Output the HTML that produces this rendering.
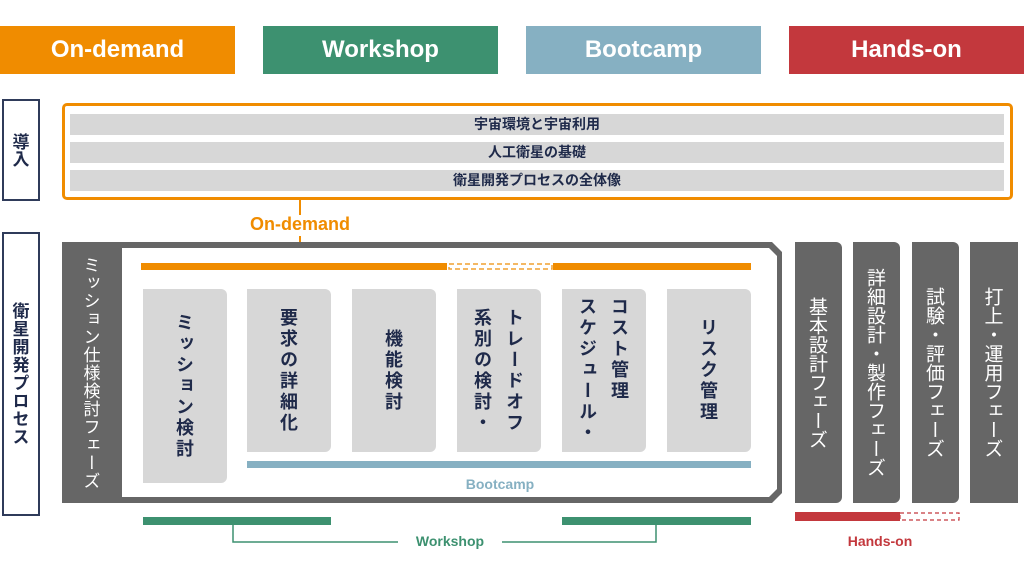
<!DOCTYPE html>
<html><head><meta charset="utf-8"><style>
*{margin:0;padding:0;box-sizing:border-box}
body{width:1024px;height:576px;background:#fff;position:relative;overflow:hidden;font-family:"Liberation Sans","Noto Sans CJK JP",sans-serif;font-weight:bold}
.a{position:absolute}
.btn{top:26px;height:48px;width:235px;color:#fff;font-size:24px;text-align:center;line-height:48px;font-weight:bold}
.row{left:70px;width:934px;height:21px;background:#d7d7d7;color:#1f2a4a;font-size:14px;text-align:center;line-height:21px}
.v{writing-mode:vertical-rl;text-orientation:upright;font-family:"Noto Sans CJK JP",sans-serif;font-weight:bold}
.card{top:289px;height:163px;width:84px;background:#d7d7d7;border-radius:0 6px 6px 0;color:#1f2a4a;font-size:18px;display:flex;align-items:center;justify-content:center;letter-spacing:3px;line-height:32px}
.ph{top:242px;height:261px;background:#666;color:#fff;border-radius:0 6px 6px 0;font-size:19px;display:flex;align-items:center;justify-content:center;letter-spacing:0;font-weight:normal}
.lbl{font-size:15px;text-align:center}
</style></head><body>
<div class="a btn" style="left:0;background:#f08c00">On-demand</div>
<div class="a btn" style="left:263px;background:#3d9170">Workshop</div>
<div class="a btn" style="left:526px;background:#86b0c2">Bootcamp</div>
<div class="a btn" style="left:789px;background:#c3383d">Hands-on</div>

<div class="a v" style="left:2px;top:99px;width:38px;height:102px;border:2px solid #2f3b5a;color:#1f2a4a;font-size:17px;display:flex;align-items:center;justify-content:center">導入</div>
<div class="a v" style="left:2px;top:232px;width:38px;height:284px;border:2px solid #2f3b5a;color:#1f2a4a;font-size:17px;display:flex;align-items:center;justify-content:center;letter-spacing:1px">衛星開発プロセス</div>

<div class="a" style="left:62px;top:103px;width:951px;height:97px;border:3px solid #f08c00;border-radius:5px"></div>
<div class="a row" style="top:114px">宇宙環境と宇宙利用</div>
<div class="a row" style="top:142px">人工衛星の基礎</div>
<div class="a row" style="top:170px">衛星開発プロセスの全体像</div>

<div class="a" style="left:299px;top:200px;width:2px;height:15px;background:#f08c00"></div>
<div class="a lbl" style="left:230px;top:214px;width:140px;color:#f08c00;font-size:18px;font-weight:bold">On-demand</div>
<div class="a" style="left:299px;top:236px;width:2px;height:28px;background:#f08c00"></div>

<svg class="a" style="left:0;top:0" width="1024" height="576">
<polygon points="62,242 772,242 782,252 782,493 772,503 62,503" fill="#666"/>
<polygon points="122,248 769,248 777,256 777,489 769,497 122,497" fill="#fff"/>
<rect x="141" y="263" width="306" height="7" fill="#f08c00"/>
<rect x="553" y="263" width="198" height="7" fill="#f08c00"/>
<rect x="449" y="264" width="103" height="5" fill="none" stroke="#f0a030" stroke-width="1.5" stroke-dasharray="5,3"/>
<rect x="247" y="461" width="504" height="7" fill="#86b0c2"/>
<rect x="143" y="517" width="188" height="8" fill="#3d9170"/>
<rect x="562" y="517" width="189" height="8" fill="#3d9170"/>
<polyline points="233,525 233,542 398,542" fill="none" stroke="#3d9170" stroke-width="1.5"/>
<polyline points="502,542 656,542 656,525" fill="none" stroke="#3d9170" stroke-width="1.5"/>
<rect x="795" y="512" width="105" height="9" fill="#c3383d"/>
<rect x="900" y="513" width="59" height="7" fill="none" stroke="#c3383d" stroke-width="1.2" stroke-dasharray="4,3"/>
</svg>
<div class="a lbl" style="left:400px;top:533px;width:100px;color:#3d9170;font-size:14px">Workshop</div>
<div class="a lbl" style="left:440px;top:476px;width:120px;color:#86b0c2;font-size:14px">Bootcamp</div>
<div class="a lbl" style="left:820px;top:533px;width:120px;color:#c3383d;font-size:14px">Hands-on</div>

<div class="a v" style="left:62px;top:242px;width:60px;height:261px;color:#fff;font-size:17px;display:flex;align-items:center;justify-content:center;font-weight:normal;letter-spacing:1px">ミッション仕様検討フェーズ</div>

<div class="a card v" style="left:143px;height:194px">ミッション検討</div>
<div class="a card v" style="left:247px">要求の詳細化</div>
<div class="a card v" style="left:352px">機能検討</div>
<div class="a card v" style="left:457px">トレードオフ<br>系別の検討・</div>
<div class="a card v" style="left:562px">コスト管理<br>スケジュール・</div>
<div class="a card v" style="left:667px">リスク管理</div>

<div class="a ph v" style="left:795px;width:47px">基本設計フェーズ</div>
<div class="a ph v" style="left:853px;width:47px">詳細設計・製作フェーズ</div>
<div class="a ph v" style="left:912px;width:47px">試験・評価フェーズ</div>
<div class="a ph v" style="left:970px;width:48px;border-radius:0">打上・運用フェーズ</div>
</body></html>
